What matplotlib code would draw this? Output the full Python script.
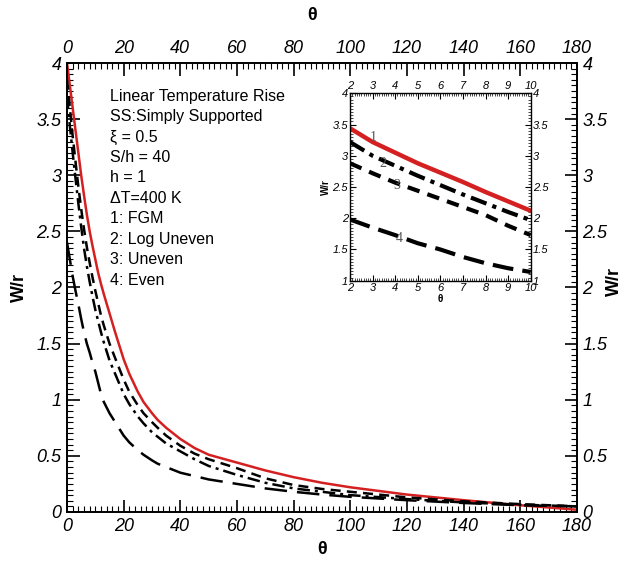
import matplotlib
matplotlib.use("Agg")
import matplotlib.pyplot as plt
from matplotlib.ticker import MultipleLocator, FuncFormatter

plt.rcParams['font.family'] = ['Liberation Sans', 'DejaVu Sans']

# main plot data
theta = [0, 1, 2, 3, 4, 5, 6, 7, 8, 9, 10, 11, 12, 13, 15, 17, 20, 22, 25, 27, 30, 32, 35, 40, 45, 50,
         60, 70, 80, 90, 100, 120, 140, 160, 180]
w_fgm = [4.0, 3.8, 3.6, 3.4, 3.2, 3.0, 2.82, 2.65, 2.5, 2.37, 2.25, 2.13, 2.03, 1.94, 1.77, 1.6, 1.36, 1.23,
         1.07, 0.98, 0.88, 0.82, 0.75, 0.65, 0.57, 0.51, 0.44, 0.37, 0.31, 0.26, 0.22, 0.155, 0.105, 0.06, 0.02]
w_dash = [3.85, 3.6, 3.35, 3.12, 2.9, 2.7, 2.52, 2.36, 2.22, 2.09, 1.97, 1.86, 1.75, 1.66, 1.5, 1.37, 1.18,
          1.07, 0.95, 0.88, 0.8, 0.75, 0.68, 0.59, 0.52, 0.47, 0.39, 0.3, 0.24, 0.205, 0.18, 0.13, 0.095,
          0.07, 0.05]
w_dashdot = [3.7, 3.44, 3.2, 2.97, 2.75, 2.54, 2.35, 2.19, 2.05, 1.92, 1.8, 1.7, 1.6, 1.51, 1.35, 1.23,
             1.05, 0.96, 0.85, 0.79, 0.71, 0.67, 0.61, 0.54, 0.47, 0.41, 0.33, 0.26, 0.21, 0.18, 0.15,
             0.115, 0.085, 0.065, 0.05]
w_even = [2.4, 2.25, 2.1, 1.97, 1.85, 1.72, 1.6, 1.5, 1.42, 1.33, 1.25, 1.15, 1.05, 0.98, 0.88, 0.8, 0.68,
          0.62, 0.55, 0.51, 0.46, 0.43, 0.4, 0.35, 0.32, 0.29, 0.25, 0.21, 0.18, 0.155, 0.135, 0.105,
          0.08, 0.06, 0.05]

# inset data
theta_in = [2, 3, 4, 5, 6, 7, 8, 9, 10]
in_fgm = [3.44, 3.22, 3.05, 2.88, 2.73, 2.58, 2.42, 2.27, 2.12]
in_log = [3.22, 3.0, 2.84, 2.68, 2.53, 2.38, 2.24, 2.1, 1.97]
in_uneven = [2.88, 2.72, 2.57, 2.44, 2.31, 2.18, 2.05, 1.88, 1.73]
in_even = [1.98, 1.85, 1.73, 1.6, 1.5, 1.38, 1.28, 1.2, 1.14]

info_lines = ["Linear Temperature Rise", "SS:Simply Supported", "\u03be = 0.5", "S/h = 40",
              "h = 1", "\u0394T=400 K", "1: FGM", "2: Log Uneven", "3: Uneven", "4: Even"]

fmt = FuncFormatter(lambda v, p: f"{v:g}")

fig = plt.figure(figsize=(6.24, 5.62), dpi=100)
ax = fig.add_axes([0.1074, 0.089, 0.8173, 0.7989])

ax.plot(theta, w_fgm, color='#d42020', lw=1.8)
ax.plot(theta, w_dash, color='black', lw=1.8, dashes=(4, 2.5))
ax.plot(theta, w_dashdot, color='black', lw=1.8, dashes=(5, 2, 1.2, 2))
ax.plot(theta, w_even, color='black', lw=1.8, dashes=(9, 4))

ax.set_xlim(0, 180)
ax.set_ylim(0, 4)
ax.xaxis.set_major_locator(MultipleLocator(20))
ax.xaxis.set_minor_locator(MultipleLocator(2))
ax.yaxis.set_major_locator(MultipleLocator(0.5))
ax.yaxis.set_minor_locator(MultipleLocator(0.05))
ax.xaxis.set_major_formatter(fmt)
ax.yaxis.set_major_formatter(fmt)
ax.tick_params(which='both', direction='in', top=True, right=True,
               labeltop=True, labelright=True)
ax.tick_params(which='major', length=9, width=1.2, labelsize=13, pad=4)
ax.tick_params(which='minor', length=4, width=0.8)
for tl in ax.xaxis.get_majorticklabels() + ax.yaxis.get_majorticklabels():
    tl.set_fontstyle('italic')
for s in ax.spines.values():
    s.set_linewidth(1.4)

ax.set_xlabel("\u03b8", fontsize=13, fontweight='bold', labelpad=5)
ax.set_ylabel("W/r", fontsize=13, fontweight='bold', labelpad=6)
fig.text(0.5, 0.973, "\u03b8", fontsize=13, fontweight='bold', ha='center', va='center')
fig.text(0.985, 0.5, "W/r", fontsize=13, fontweight='bold', rotation=90, ha='center', va='center')

for i, line in enumerate(info_lines):
    ax.text(0.084, 0.926 - i * 0.0455, line, transform=ax.transAxes, fontsize=11.5,
            ha='left', va='center')

# inset
ins = fig.add_axes([0.5609, 0.5005, 0.2896, 0.3335])
ins.plot(theta_in, in_fgm, color='#d42020', lw=3.2)
ins.plot(theta_in, in_log, color='black', lw=3, dashes=(4, 1.5, 1, 1.5))
ins.plot(theta_in, in_uneven, color='black', lw=3, dashes=(3, 2))
ins.plot(theta_in, in_even, color='black', lw=3, dashes=(5, 2.2))
ins.set_xlim(2, 10)
ins.set_ylim(1, 4)
ins.xaxis.set_major_locator(MultipleLocator(1))
ins.xaxis.set_minor_locator(MultipleLocator(0.1))
ins.yaxis.set_major_locator(MultipleLocator(0.5))
ins.yaxis.set_minor_locator(MultipleLocator(0.05))
ins.xaxis.set_major_formatter(fmt)
ins.yaxis.set_major_formatter(fmt)
ins.tick_params(which='both', direction='in', top=True, right=True,
                labeltop=True, labelright=True)
ins.tick_params(which='major', length=4, width=0.8, labelsize=8, pad=1.5)
ins.tick_params(which='minor', length=2, width=0.5)
for tl in ins.xaxis.get_majorticklabels() + ins.yaxis.get_majorticklabels():
    tl.set_fontstyle('italic')
for s in ins.spines.values():
    s.set_linewidth(1.0)
ins.set_xlabel("\u03b8", fontsize=7, fontweight='bold', labelpad=1)
ins.set_ylabel("W/r", fontsize=7, fontweight='bold', labelpad=1)

for lbl, x, y in [("1", 3.03, 3.3), ("2", 3.47, 2.88), ("3", 4.07, 2.53), ("4", 4.2, 1.68)]:
    ins.text(x, y, lbl, fontsize=10, color='#555555', family='Liberation Serif',
             ha='center', va='center')

fig.savefig("out.png", dpi=100, facecolor='white')
